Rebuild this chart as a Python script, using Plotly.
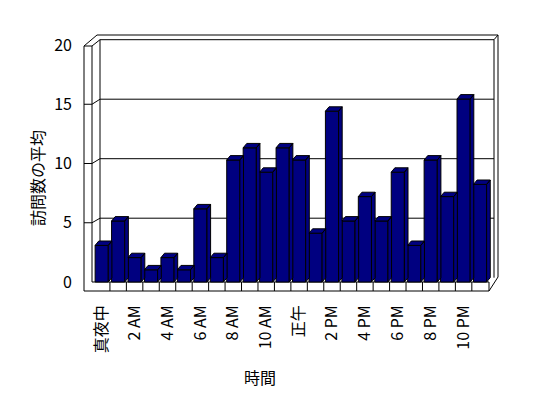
import plotly.graph_objects as go

# ---- data ----
hours = ["真夜中", "1 AM", "2 AM", "3 AM", "4 AM", "5 AM", "6 AM", "7 AM", "8 AM", "9 AM",
         "10 AM", "11 AM", "正午", "1 PM", "2 PM", "3 PM", "4 PM", "5 PM", "6 PM", "7 PM",
         "8 PM", "9 PM", "10 PM", "11 PM"]
visits = [3, 5, 2, 1, 2, 1, 6, 2, 10, 11, 9, 11, 10, 4, 14, 5, 7, 5, 9, 3, 10, 7, 15, 8]
y_ticks = [0, 5, 10, 15, 20]
x_title = "時間"
y_title = "訪問数の平均"

W, H = 548, 398
L, R, T, B = 84, 498, 34, 291          # plot area in pixels
FONT = "Noto Sans CJK JP"
NAVY = "#000080"

def PX(X):
    return (X - L) / (R - L)

def PY(Y):
    return (B - Y) / (B - T)

n = len(visits)
xs = list(range(n))
half = 0.4
dx, dy = 0.22, 0.36      # 3D depth of bars in data units

fig = go.Figure()

# front faces
fig.add_trace(go.Bar(x=xs, y=visits, width=2 * half, marker=dict(color=NAVY, line=dict(color="black", width=1)),
                     hoverinfo="skip", showlegend=False))

# side and top faces
fx, fy = [], []
for i, v in zip(xs, visits):
    fx += [i + half, i + half + dx, i + half + dx, i + half, i + half, None]
    fy += [0, dy, v + dy, v, 0, None]
    fx += [i - half, i - half + dx, i + half + dx, i + half, i - half, None]
    fy += [v, v + dy, v + dy, v, v, None]
fig.add_trace(go.Scatter(x=fx, y=fy, mode="lines", fill="toself", fillcolor=NAVY,
                         line=dict(color="black", width=1), hoverinfo="skip", showlegend=False))

# invisible trace for the label axis
fig.add_trace(go.Scatter(x=[0], y=[0], yaxis="y2", mode="markers", marker=dict(opacity=0),
                         hoverinfo="skip", showlegend=False))

shapes = []
def line(x0, y0, x1, y1, layer="below"):
    shapes.append(dict(type="line", xref="paper", yref="paper", x0=PX(x0), y0=PY(y0), x1=PX(x1), y1=PY(y1),
                       line=dict(color="black", width=1), layer=layer))

front0, front_s = 282, 11.85
back0, back_s = 277.7, 11.9
# left wall
line(84, 46, 84, 291)
line(92, 46, 92, 282)
line(84, 46, 92, 46)
line(84, 46, 97, 35)
line(92, 46, 100, back0 - back_s * 20)
line(100, back0 - back_s * 20, 100, back0)
# back wall top/right
line(97, 35, 498, 35)
line(100, back0 - back_s * 20, 494, back0 - back_s * 20)
line(494, back0 - back_s * 20, 498, 35)
line(498, 35, 498, 277)
line(494, back0 - back_s * 20, 494, back0)
# gridlines
for v in y_ticks[1:-1]:
    yf = front0 - front_s * v
    yb = back0 - back_s * v
    line(84, yf, 92, yf)
    line(92, yf, 100, yb)
    line(100, yb, 494, yb)
# floor
line(84, 291, 489, 291)
line(92, 282, 489, 282)
line(489, 282, 489, 291)
line(489, 291, 498, 277)
for i in range(1, n):
    shapes.append(dict(type="line", xref="x", yref="paper", x0=i - 0.5, x1=i - 0.5, y0=PY(291), y1=PY(282),
                       line=dict(color="black", width=1), layer="below"))

bar_scale = 12.2
xpix0, xstep = 101.7, 16.45
fig.update_layout(
    width=W, height=H,
    margin=dict(l=L, r=W - R, t=T, b=H - B, pad=0),
    paper_bgcolor="white", plot_bgcolor="white",
    font=dict(family=FONT, size=14, color="black"),
    showlegend=False,
    barmode="overlay",
    xaxis=dict(range=[(L - xpix0) / xstep, (R - xpix0) / xstep],
               tickvals=xs[::2], ticktext=hours[::2], tickangle=-90,
               ticks="", showgrid=False, showline=False, zeroline=False,
               ticklabelstandoff=10, tickfont=dict(size=16)),
    yaxis=dict(range=[(front0 - B) / bar_scale, (front0 - T) / bar_scale],
               showticklabels=False, ticks="", showgrid=False, showline=False, zeroline=False),
    yaxis2=dict(range=[(front0 - B) / front_s, (front0 - T) / front_s], overlaying="y", anchor="x",
                side="left", tickvals=y_ticks, ticks="", showgrid=False, showline=False, zeroline=False,
                ticklabelstandoff=11, tickfont=dict(size=16)),
    shapes=shapes,
    annotations=[
        dict(text=x_title, xref="paper", yref="paper", x=PX(260), y=PY(377), showarrow=False,
             font=dict(size=16), xanchor="center", yanchor="middle"),
        dict(text=y_title, xref="paper", yref="paper", x=PX(37), y=PY(178), showarrow=False,
             font=dict(size=16), textangle=-90, xanchor="center", yanchor="middle"),
    ],
)

fig.write_html("out.html")
